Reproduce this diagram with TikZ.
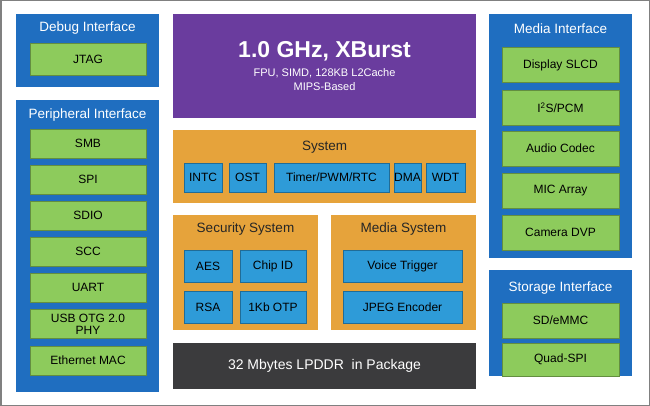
\documentclass[tikz,border=0pt]{standalone}
\usepackage{fontspec}
\setmainfont{Liberation Sans}
\begin{document}
\begin{tikzpicture}[x=1pt,y=-1pt,
 blu/.style={fill=blu,draw=none},
 grn/.style={fill=grn,draw=grn!70!black,line width=0.6pt,font=\fontsize{12}{12}\selectfont,align=center},
 cyn/.style={fill=cyn,draw=cyn!70!black,line width=0.6pt,font=\fontsize{12}{14}\selectfont,text=black},
 ttl/.style={text=white,font=\fontsize{13.5}{15}\selectfont},
 ttlk/.style={text=black!85,font=\fontsize{13.5}{15}\selectfont}]
\definecolor{blu}{HTML}{1F6EC0}\definecolor{grn}{HTML}{8DCB5C}
\definecolor{pur}{HTML}{6A3C9E}\definecolor{org}{HTML}{E6A33B}
\definecolor{cyn}{HTML}{2E9BD8}\definecolor{dk}{HTML}{3B3B3D}
\draw[gray,line width=1.5pt,fill=white] (0.75,0.75) rectangle (649.25,405.25);
\newcommand{\bx}[6]{\node[#1,minimum width={#4-#2},minimum height={#5-#3},inner sep=0pt] (#6) at ({(#2+#4)/2},{(#3+#5)/2}) {};}
% left
\bx{blu}{16}{14}{159}{87}{dbg}
\node[ttl] (dbgt) at (87.5,28) {Debug Interface};
\node[grn,minimum width=116,minimum height=32] (jtag) at (88,59) {JTAG};
\bx{blu}{16}{100}{159}{392}{per}
\node[ttl] (pert) at (87.5,115) {Peripheral Interface};
\foreach \t/\y/\n in {SMB/143.5/a,SPI/179.5/b,SDIO/215.5/c,SCC/251.5/d,UART/287.5/e,{USB OTG 2.0\\PHY}/324/f,Ethernet MAC/360.5/g}
 \node[grn,minimum width=116,minimum height=29,inner sep=1pt] (p\n) at (88,\y) {\t};
% cpu
\bx{fill=pur}{173}{14}{476}{118}{cpu}
\node[text=white,font=\bfseries\fontsize{23}{26}\selectfont] (cput) at (324.5,51) {1.0 GHz, XBurst};
\node[text=white,font=\fontsize{11}{14}\selectfont,align=center] (cpus) at (324.5,80) {FPU, SIMD, 128KB L2Cache\\MIPS-Based};
% system
\bx{fill=org}{173}{130}{476}{203}{sys}
\node[ttlk] (syst) at (324.5,147) {System};
\foreach \t/\a/\b/\n in {INTC/184/222/a,OST/229/266/b,{Timer/PWM/RTC}/274/389/c,DMA/394/421/d,WDT/426/465/e}
 \node[cyn,minimum width={\b-\a},minimum height=29,inner sep=0pt] (s\n) at ({(\a+\b)/2},177.5) {\t};
% security
\bx{fill=org}{173}{215}{318}{330}{sec}
\node[ttlk] (sect) at (245.5,229) {Security System};
\node[cyn,minimum width=48,minimum height=32] (aes) at (208,266.5) {AES};
\node[cyn,minimum width=66,minimum height=32] (cid) at (273,266.5) {Chip ID};
\node[cyn,minimum width=48,minimum height=32] (rsa) at (208,307) {RSA};
\node[cyn,minimum width=66,minimum height=32] (otp) at (273,307) {1Kb OTP};
% media system
\bx{fill=org}{331}{215}{476}{330}{msy}
\node[ttlk] (msyt) at (403.5,229) {Media System};
\node[cyn,minimum width=119,minimum height=32] (vt) at (402.5,266.5) {Voice Trigger};
\node[cyn,minimum width=119,minimum height=32] (jp) at (402.5,307) {JPEG Encoder};
% lpddr
\bx{fill=dk}{173}{343}{476}{389}{ddr}
\node[text=white,font=\fontsize{14}{16}\selectfont] (ddrt) at (324.5,366) {32 Mbytes LPDDR\ \ in Package};
% right
\bx{blu}{489}{14}{632}{258}{med}
\node[ttl] (medt) at (560.5,29) {Media Interface};
\foreach \t/\y/\n in {Display SLCD/65/a,{I\textsuperscript{2}S/PCM}/107.5/b,Audio Codec/148.5/c,MIC Array/190.5/d,Camera DVP/232.5/e}
 \node[grn,minimum width=117,minimum height=35] (m\n) at (560.5,\y) {\t};
\bx{blu}{489}{270}{632}{376}{sto}
\node[ttl] (stot) at (560.5,288) {Storage Interface};
\node[grn,minimum width=117,minimum height=35] (sd) at (560.5,320.5) {SD/eMMC};
\node[grn,minimum width=117,minimum height=33] (qs) at (560.5,359.5) {Quad-SPI};
\end{tikzpicture}
\end{document}
